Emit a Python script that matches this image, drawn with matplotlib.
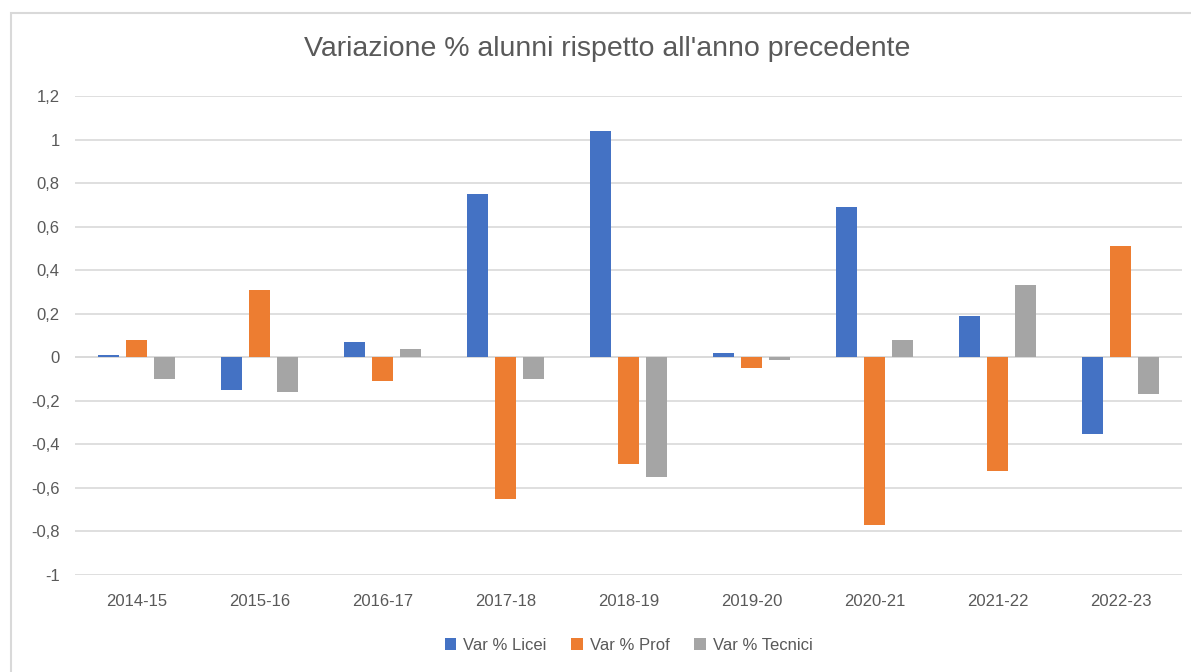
import numpy as np
import matplotlib.pyplot as plt
from matplotlib.patches import Rectangle

anni = ['2014-15', '2015-16', '2016-17', '2017-18', '2018-19',
        '2019-20', '2020-21', '2021-22', '2022-23']
licei = [0.01, -0.15, 0.07, 0.75, 1.04, 0.02, 0.69, 0.19, -0.35]
prof = [0.08, 0.31, -0.11, -0.65, -0.49, -0.05, -0.77, -0.52, 0.51]
tecnici = [-0.10, -0.16, 0.04, -0.10, -0.55, -0.01, 0.08, 0.33, -0.17]

serie = ['Var % Licei', 'Var % Prof', 'Var % Tecnici']
colori = ['#4472C4', '#ED7D31', '#A5A5A5']

plt.rcParams['font.family'] = ['Liberation Sans', 'DejaVu Sans']
testo = '#595959'
griglia = '#D9D9D9'

fig = plt.figure(figsize=(11.91, 6.72), dpi=100)
ax = fig.add_axes([0.063, 0.1443, 0.9295, 0.7127])

# bordo del grafico
fig.patches.append(Rectangle((11 / 1191, -0.1), 1.2, 1 - 13 / 672 + 0.1,
                             transform=fig.transFigure, fill=False,
                             edgecolor=griglia, linewidth=1.5))

x = np.arange(len(anni))
w = 0.175
passo = 0.228
for i, (vals, nome, c) in enumerate(zip([licei, prof, tecnici], serie, colori)):
    ax.bar(x + (i - 1) * passo, vals, w, color=c, label=nome, zorder=3)

ax.set_xlim(-0.5, len(anni) - 0.5)
ax.set_ylim(-1, 1.2)
ticks = np.round(np.arange(-1, 1.21, 0.2), 1) + 0.0
ax.set_yticks(ticks)
ax.set_yticklabels([('%g' % (0 if abs(t) < 1e-9 else t)).replace('.', ',')
                    for t in ticks])
ax.set_xticks(x)
ax.set_xticklabels(anni)
ax.tick_params(axis='both', length=0, labelsize=12, colors=testo)
ax.tick_params(axis='x', pad=14)
ax.tick_params(axis='y', pad=11)
ax.grid(axis='y', color=griglia, linewidth=1.2, zorder=0)
ax.axhline(0, color=griglia, linewidth=1.2, zorder=1)
for s in ax.spines.values():
    s.set_visible(False)

fig.suptitle("Variazione % alunni rispetto all'anno precedente",
             x=0.510, y=0.927, fontsize=20.5, color=testo, va='center')

ax.legend(loc='center', bbox_to_anchor=(0.5, -0.147), ncol=3, frameon=False,
          fontsize=12, handlelength=0.7, handleheight=0.7, columnspacing=1.5,
          handletextpad=0.4, labelcolor=testo)

fig.savefig('out.png', dpi=100)
